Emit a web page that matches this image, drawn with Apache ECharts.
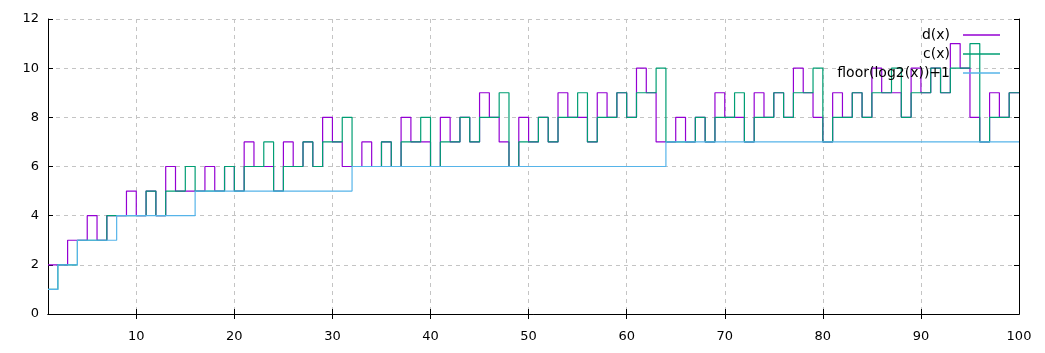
<!DOCTYPE html>
<html>
<head>
<meta charset="utf-8">
<script src="https://cdn.jsdelivr.net/npm/echarts@6/dist/echarts.min.js"></script>
<style>
  html, body { margin: 0; padding: 0; background: #fff; }
  #chart { width: 1045px; height: 353px; }
</style>
</head>
<body>
<div id="chart"></div>
<script>
// x values 1..100
const xValues = [
  1, 2, 3, 4, 5, 6, 7, 8, 9, 10, 11, 12, 13, 14, 15, 16, 17, 18, 19, 20,
  21, 22, 23, 24, 25, 26, 27, 28, 29, 30, 31, 32, 33, 34, 35, 36, 37, 38, 39, 40,
  41, 42, 43, 44, 45, 46, 47, 48, 49, 50, 51, 52, 53, 54, 55, 56, 57, 58, 59, 60,
  61, 62, 63, 64, 65, 66, 67, 68, 69, 70, 71, 72, 73, 74, 75, 76, 77, 78, 79, 80,
  81, 82, 83, 84, 85, 86, 87, 88, 89, 90, 91, 92, 93, 94, 95, 96, 97, 98, 99, 100
]
const dValues = [
  2, 2, 3, 3, 4, 3, 4, 4, 5, 4, 5, 4, 6, 5, 5, 5, 6, 5, 6, 5,
  7, 6, 6, 5, 7, 6, 7, 6, 8, 7, 6, 6, 7, 6, 7, 6, 8, 7, 7, 6,
  8, 7, 8, 7, 9, 8, 7, 6, 8, 7, 8, 7, 9, 8, 8, 7, 9, 8, 9, 8,
  10, 9, 7, 7, 8, 7, 8, 7, 9, 8, 8, 7, 9, 8, 9, 8, 10, 9, 8, 7,
  9, 8, 9, 8, 10, 9, 9, 8, 10, 9, 10, 9, 11, 10, 8, 7, 9, 8, 9, 9
]
const cValues = [
  1, 2, 2, 3, 3, 3, 4, 4, 4, 4, 5, 4, 5, 5, 6, 5, 5, 5, 6, 5,
  6, 6, 7, 5, 6, 6, 7, 6, 7, 7, 8, 6, 6, 6, 7, 6, 7, 7, 8, 6,
  7, 7, 8, 7, 8, 8, 9, 6, 7, 7, 8, 7, 8, 8, 9, 7, 8, 8, 9, 8,
  9, 9, 10, 7, 7, 7, 8, 7, 8, 8, 9, 7, 8, 8, 9, 8, 9, 9, 10, 7,
  8, 8, 9, 8, 9, 9, 10, 8, 9, 9, 10, 9, 10, 10, 11, 7, 8, 8, 9, 9
]
const logValues = [
  1, 2, 2, 3, 3, 3, 3, 4, 4, 4, 4, 4, 4, 4, 4, 5, 5, 5, 5, 5,
  5, 5, 5, 5, 5, 5, 5, 5, 5, 5, 5, 6, 6, 6, 6, 6, 6, 6, 6, 6,
  6, 6, 6, 6, 6, 6, 6, 6, 6, 6, 6, 6, 6, 6, 6, 6, 6, 6, 6, 6,
  6, 6, 6, 7, 7, 7, 7, 7, 7, 7, 7, 7, 7, 7, 7, 7, 7, 7, 7, 7,
  7, 7, 7, 7, 7, 7, 7, 7, 7, 7, 7, 7, 7, 7, 7, 7, 7, 7, 7, 7
]
const seriesNames = ['d(x)', 'c(x)', 'floor(log2(x))+1']
const seriesColors = ['#9400d3', '#009e73', '#56b4e9']
const xTickValues = [10, 20, 30, 40, 50, 60, 70, 80, 90]
const xLabelValues = [10, 20, 30, 40, 50, 60, 70, 80, 90, 100]

const font = 'DejaVu Sans'
const pair = ys => xValues.map((x, i) => [x, ys[i]])

const chart = echarts.init(document.getElementById('chart'))

const gridLine = { show: true, lineStyle: { color: '#c4c4c4', type: [4, 4], width: 1 } }
const blackLine = { show: true, lineStyle: { color: '#000', width: 1 } }

const legendTops = [23, 42, 61]

chart.setOption({
  backgroundColor: '#fff',
  animation: false,
  grid: { left: 48, right: 26, top: 19, bottom: 39 },
  legend: seriesNames.map((name, i) => ({
    data: [name],
    orient: 'vertical',
    right: 40,
    top: legendTops[i],
    align: 'right',
    icon: 'rect',
    itemWidth: 37,
    itemHeight: 1.3,
    selectedMode: false,
    textStyle: { fontFamily: font, fontSize: 14, color: '#000', padding: [0, 8, 0, 0] }
  })),
  xAxis: [
    {
      type: 'value',
      min: 1,
      max: 100,
      position: 'bottom',
      axisLine: blackLine,
      axisTick: { inside: true, length: 5, lineStyle: { color: '#000' }, customValues: xTickValues },
      axisLabel: { customValues: xLabelValues, margin: 16, color: '#000', fontFamily: font, fontSize: 13 },
      splitLine: gridLine
    },
    {
      type: 'value',
      min: 1,
      max: 100,
      position: 'top',
      axisLine: blackLine,
      axisTick: { inside: true, length: 5, lineStyle: { color: '#000' }, customValues: xTickValues },
      axisLabel: { show: false },
      splitLine: { show: false }
    }
  ],
  yAxis: [
    {
      type: 'value',
      min: 0,
      max: 12,
      interval: 2,
      position: 'left',
      axisLine: blackLine,
      axisTick: { show: true, inside: true, length: 5, lineStyle: { color: '#000' } },
      axisLabel: { margin: 9, color: '#000', fontFamily: font, fontSize: 13 },
      splitLine: gridLine
    },
    {
      type: 'value',
      min: 0,
      max: 12,
      interval: 2,
      position: 'right',
      axisLine: blackLine,
      axisTick: { show: true, inside: true, length: 5, lineStyle: { color: '#000' } },
      axisLabel: { show: false },
      splitLine: { show: false }
    }
  ],
  series: [dValues, cValues, logValues].map((vals, i) => ({
    name: seriesNames[i],
    type: 'line',
    step: 'end',
    symbol: 'none',
    data: pair(vals),
    color: seriesColors[i],
    lineStyle: { width: 1.2, color: seriesColors[i] },
    z: 2 + i
  }))
})
</script>
</body>
</html>
